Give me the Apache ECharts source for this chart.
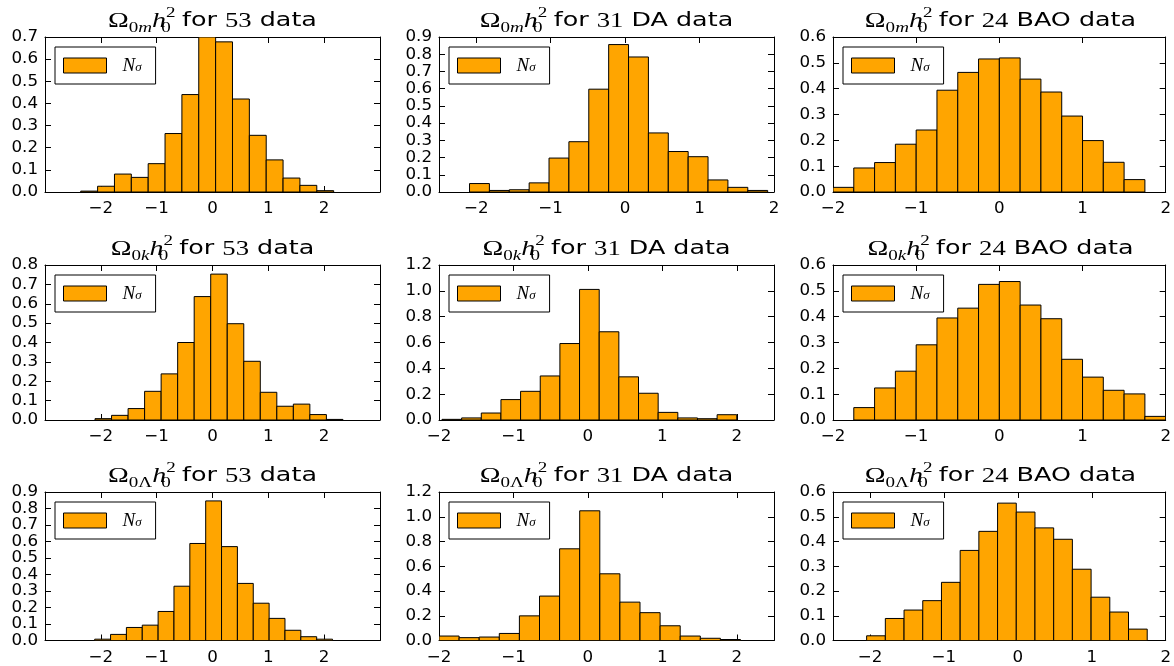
<!DOCTYPE html>
<html><head><meta charset="utf-8">
<script src="https://cdn.jsdelivr.net/npm/echarts@6/dist/echarts.min.js"></script>
<style>html,body{margin:0;padding:0;background:#fff}#c{width:1174px;height:666px}</style>
</head><body><div id="c"></div>
<script>
// ---- data ----
const xTicks = [-2, -1, 0, 1, 2];
const legendName = 'Nσ';

// bin start / bin width / normalized heights
const start_m53 = -2.36, width_m53 = 0.302;
const h_m53 = [0.004,0.026,0.081,0.066,0.128,0.264,0.44,0.70,0.678,0.42,0.256,0.145,0.063,0.030,0.006];
const start_mDA = -2.09, width_mDA = 0.267;
const h_mDA = [0.049,0.009,0.013,0.053,0.197,0.292,0.597,0.856,0.784,0.343,0.235,0.205,0.070,0.027,0.009];
const start_mBAO = -2.0, width_mBAO = 0.25;
const h_mBAO = [0.018,0.093,0.114,0.185,0.24,0.394,0.463,0.515,0.519,0.437,0.387,0.294,0.199,0.115,0.048];

const start_k53 = -2.104, width_k53 = 0.296;
const h_k53 = [0.007,0.024,0.059,0.148,0.238,0.40,0.637,0.753,0.497,0.303,0.143,0.071,0.082,0.028,0.003];
const start_kDA = -1.96, width_kDA = 0.264;
const h_kDA = [0.005,0.016,0.054,0.158,0.222,0.341,0.592,1.011,0.683,0.334,0.207,0.059,0.016,0.010,0.041];
const start_kBAO = -1.75, width_kBAO = 0.25;
const h_kBAO = [0.048,0.124,0.189,0.291,0.395,0.433,0.525,0.536,0.445,0.392,0.235,0.166,0.115,0.101,0.014];

const start_L53 = -2.11, width_L53 = 0.284;
const h_L53 = [0.008,0.037,0.079,0.093,0.176,0.329,0.588,0.846,0.569,0.346,0.226,0.134,0.062,0.023,0.008];
const start_LDA = -2.0, width_LDA = 0.27;
const h_LDA = [0.036,0.023,0.028,0.057,0.199,0.359,0.741,1.048,0.539,0.31,0.225,0.119,0.036,0.018,0.008];
const start_LBAO = -2.045, width_LBAO = 0.253;
const h_LBAO = [0.019,0.089,0.123,0.161,0.235,0.364,0.441,0.555,0.519,0.455,0.409,0.288,0.175,0.115,0.046];

// y tick labels per panel
const yTicks07 = [0.0,0.1,0.2,0.3,0.4,0.5,0.6,0.7];
const yTicks08 = [0.0,0.1,0.2,0.3,0.4,0.5,0.6,0.7,0.8];
const yTicks09 = [0.0,0.1,0.2,0.3,0.4,0.5,0.6,0.7,0.8,0.9];
const yTicks06 = [0.0,0.1,0.2,0.3,0.4,0.5,0.6];
const yTicks12 = [0.0,0.2,0.4,0.6,0.8,1.0,1.2];

// titles: parameter subscript, count, dataset label
const titleSub = ['m', 'k', 'Λ'];
const titleCount = ['53', '31', '24'];
const titleKind = ['', ' DA', ' BAO'];

// axis ranges [xmin, xmax, ymax]
const ranges = [
  [-3, 3, 0.7], [-2.5, 2, 0.9], [-2, 2, 0.6],
  [-3, 3, 0.8], [-2, 2.5, 1.2], [-2, 2, 0.6],
  [-3, 3, 0.9], [-2, 2.5, 1.2], [-2.5, 2, 0.6]
];
const yTickSets = [yTicks07, yTicks09, yTicks06, yTicks08, yTicks12, yTicks06, yTicks09, yTicks12, yTicks06];
const hists = [
  [start_m53, width_m53, h_m53], [start_mDA, width_mDA, h_mDA], [start_mBAO, width_mBAO, h_mBAO],
  [start_k53, width_k53, h_k53], [start_kDA, width_kDA, h_kDA], [start_kBAO, width_kBAO, h_kBAO],
  [start_L53, width_L53, h_L53], [start_LDA, width_LDA, h_LDA], [start_LBAO, width_LBAO, h_LBAO]
];

// ---- layout ----
const colLeft = [45, 439, 833];
const gridW = 335;
const rowTop = [37, 265, 492];
const gridH = 155;
const titleTop = [6, 234, 461];
const titleStretch = 1.27;

const ORANGE = '#FFA500';
const fmtX = v => (v < 0 ? '\u2212' + Math.abs(v) : String(v));
const fmtY = v => Number(v).toFixed(1);

const option = {
  animation: false,
  backgroundColor: '#fff',
  legend: [], grid: [], xAxis: [], yAxis: [], series: [],
  graphic: { elements: [] }
};

const base = { fill: '#000', fontWeight: 'normal' };
const mathRich = {
  O: Object.assign({ fontFamily: 'Liberation Serif', fontSize: 22, lineHeight: 30 }, base),
  h: Object.assign({ fontFamily: 'Liberation Serif', fontStyle: 'italic', fontSize: 22, lineHeight: 30 }, base),
  s: Object.assign({ fontFamily: 'Liberation Serif', fontSize: 15, lineHeight: 15, verticalAlign: 'bottom' }, base),
  si: Object.assign({ fontFamily: 'Liberation Serif', fontStyle: 'italic', fontSize: 15, lineHeight: 15, verticalAlign: 'bottom' }, base),
  z: Object.assign({ fontFamily: 'Liberation Serif', fontSize: 15, lineHeight: 15, verticalAlign: 'bottom', width: 0.01 }, base),
  p: Object.assign({ fontFamily: 'Liberation Serif', fontSize: 15, lineHeight: 15, verticalAlign: 'top' }, base),
  tf: Object.assign({ fontFamily: 'DejaVu Sans', fontSize: 20, lineHeight: 30, padding: [0, 0, 0, 5] }, base),
  t: Object.assign({ fontFamily: 'DejaVu Sans', fontSize: 20, lineHeight: 30 }, base),
  n: Object.assign({ fontFamily: 'Liberation Serif', fontSize: 21, lineHeight: 30 }, base)
};

for (let r = 0; r < 3; r++) {
  for (let c = 0; c < 3; c++) {
    const i = r * 3 + c;
    const [xmin, xmax, ymax] = ranges[i];
    const yTicks = yTickSets[i];
    const yEven = yTicks.filter((v, k) => k % 2 === 0);
    const yOdd = yTicks.filter((v, k) => k % 2 === 1);
    const [bStart, bWidth, heights] = hists[i];
    const gl = colLeft[c], gt = rowTop[r];

    const sub = titleSub[r];
    const subTok = sub === 'Λ' ? '{s|0Λ}' : '{s|0}{si|' + sub + '}';
    option.graphic.elements.push({
      type: 'text', x: gl + gridW / 2, y: titleTop[r], scaleX: titleStretch,
      silent: true,
      style: {
        text: '{O|Ω}' + subTok + '{h|h}{z|0}{p|2}{tf|for }{n|' + titleCount[c] + '}{t|' + titleKind[c] + ' data}',
        align: 'center', verticalAlign: 'top', rich: mathRich, fill: '#000'
      }
    });

    option.grid.push({ left: gl, top: gt, width: gridW, height: gridH, containLabel: false });

    const tickCommon = { show: true, inside: true, length: 6, lineStyle: { color: '#000', width: 1 } };
    const labelCommon = { color: '#000', fontFamily: 'DejaVu Sans', fontSize: 16.7, lineHeight: 14, showMinLabel: true, showMaxLabel: true, hideOverlap: false };
    const lineStyle = { onZero: false, lineStyle: { color: '#000', width: 1 } };
    option.xAxis.push({
      type: 'value', gridIndex: i, min: xmin, max: xmax, position: 'bottom',
      axisLine: lineStyle,
      axisTick: Object.assign({ customValues: xTicks }, tickCommon),
      axisLabel: Object.assign({ customValues: xTicks, formatter: fmtX, margin: 10 }, labelCommon),
      splitLine: { show: false }
    });
    option.xAxis.push({
      type: 'value', gridIndex: i, min: xmin, max: xmax, position: 'top',
      axisLine: lineStyle,
      axisTick: Object.assign({ customValues: xTicks }, tickCommon),
      axisLabel: { show: false }, splitLine: { show: false }
    });
    // left axis: line, all ticks, labels at even positions
    option.yAxis.push({
      type: 'value', gridIndex: i, min: 0, max: ymax, position: 'left',
      axisLine: Object.assign({ show: true }, lineStyle),
      axisTick: Object.assign({ customValues: yTicks }, tickCommon),
      axisLabel: Object.assign({ customValues: yEven, formatter: fmtY, margin: 7 }, labelCommon),
      splitLine: { show: false }
    });
    // left axis: labels at odd positions (split so close labels are not dropped)
    option.yAxis.push({
      type: 'value', gridIndex: i, min: 0, max: ymax, position: 'left',
      axisLine: { show: false }, axisTick: { show: false },
      axisLabel: Object.assign({ customValues: yOdd.length ? yOdd : yEven, show: yOdd.length > 0, formatter: fmtY, margin: 7 }, labelCommon),
      splitLine: { show: false }
    });
    // right mirror axis
    option.yAxis.push({
      type: 'value', gridIndex: i, min: 0, max: ymax, position: 'right',
      axisLine: Object.assign({ show: true }, lineStyle),
      axisTick: Object.assign({ customValues: yTicks }, tickCommon),
      axisLabel: { show: false }, splitLine: { show: false }
    });

    const data = heights.map((h, k) => [bStart + k * bWidth, bStart + (k + 1) * bWidth, h]);
    option.series.push({
      type: 'custom', name: legendName, xAxisIndex: 2 * i, yAxisIndex: 3 * i,
      clip: true,
      itemStyle: { color: ORANGE, borderColor: '#000', borderWidth: 1 },
      encode: { x: [0, 1], y: 2 },
      data: data,
      renderItem: function (params, api) {
        const p0 = api.coord([api.value(0), api.value(2)]);
        const p1 = api.coord([api.value(1), 0]);
        return {
          type: 'rect',
          shape: { x: p0[0], y: p0[1], width: p1[0] - p0[0], height: p1[1] - p0[1] },
          style: { fill: ORANGE, stroke: '#000', lineWidth: 1 }
        };
      }
    });

    option.legend.push({
      left: gl + 10, top: gt + 10, orient: 'vertical', data: [legendName],
      icon: 'rect', itemWidth: 43, itemHeight: 15, itemGap: 0,
      padding: [9, 14, 9, 8], borderColor: '#000', borderWidth: 1, borderRadius: 0,
      backgroundColor: '#fff', selectedMode: false, z: 10,
      itemStyle: { color: ORANGE, borderColor: '#000', borderWidth: 1 },
      formatter: () => '{n|N}{s|σ}',
      textStyle: {
        rich: {
          n: { fontFamily: 'Liberation Serif', fontStyle: 'italic', fontSize: 19, lineHeight: 18, padding: [0, 0, 0, 11], color: '#000' },
          s: { fontFamily: 'Liberation Serif', fontStyle: 'italic', fontSize: 13, lineHeight: 11, verticalAlign: 'bottom', color: '#000' }
        }
      }
    });
  }
}

const chart = echarts.init(document.getElementById('c'), null, { renderer: 'canvas' });
chart.setOption(option);
</script>
</body></html>
